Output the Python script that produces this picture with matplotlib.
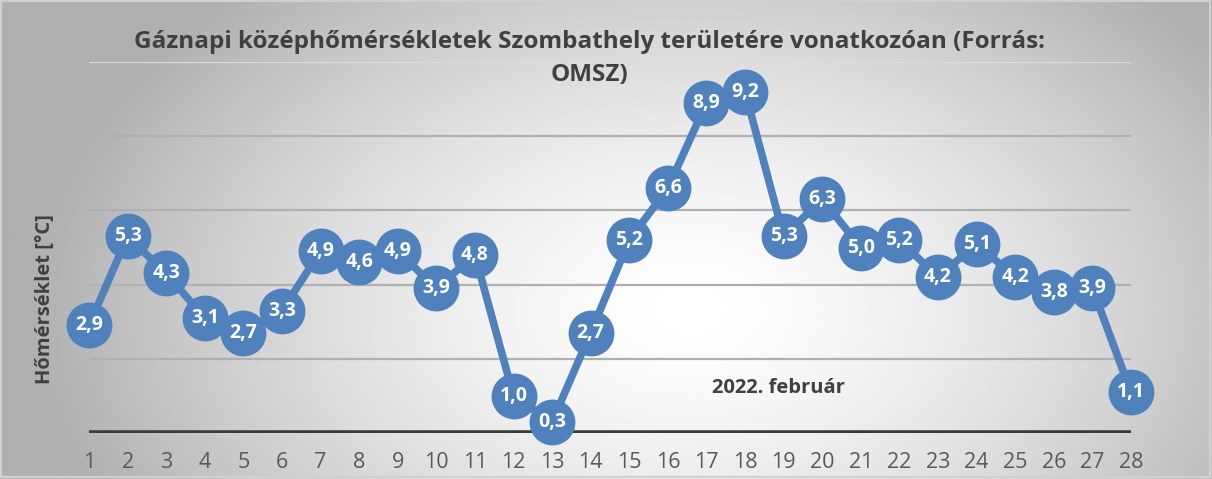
import numpy as np
import matplotlib.pyplot as plt
from matplotlib.patches import Rectangle

# ============================================================
# Data (daily mean temperature, Szombathely, Feb 2022)
# ============================================================

days = list(range(1, 29))
temps = [2.9, 5.3, 4.3, 3.1, 2.7, 3.3, 4.9, 4.6, 4.9, 3.9,
         4.8, 1.0, 0.3, 2.7, 5.2, 6.6, 8.9, 9.2, 5.3, 6.3,
         5.0, 5.2, 4.2, 5.1, 4.2, 3.8, 3.9, 1.1]
y_grid = [2, 4, 6, 8, 10]

title_lines = ["Gáznapi középhőmérsékletek Szombathely területére vonatkozóan (Forrás:",
               "OMSZ)"]
y_label = "Hőmérséklet [°C]"
month_label = "2022. február"

plt.rcParams["font.family"] = ["Open Sans", "DejaVu Sans"]

W, H = 1212, 479
fig = plt.figure(figsize=(W / 100, H / 100), dpi=100)

# ============================================================
# Background gradient
# ============================================================

bg = fig.add_axes([0, 0, 1, 1], zorder=0)
xx, yy = np.meshgrid(np.linspace(0, W, 400), np.linspace(0, H, 200))
cx, cy = 690, 310
r = np.sqrt(((xx - cx) / 600) ** 2 + ((yy - cy) / 400) ** 2)
shade = 1.0 - 0.27 * np.clip(r, 0, 1.1) ** 1.5
bg.imshow(shade, cmap="gray", vmin=0, vmax=1, extent=[0, W, H, 0],
          aspect="auto", interpolation="bilinear")
bg.add_patch(Rectangle((1, 1), W - 3, H - 3, fill=False,
                       edgecolor="#d0d0d0", lw=1.5))
bg.set_xlim(0, W)
bg.set_ylim(H, 0)
bg.axis("off")

# ============================================================
# Main plot
# ============================================================

left, right = 89 / W, 1131 / W
bottom, top = (H - 433) / H, (H - 62) / H
ax = fig.add_axes([left, bottom, right - left, top - bottom], zorder=1)
ax.patch.set_alpha(0)

for g in y_grid:
    ax.axhline(g, color="#b0b0b0" if g < 10 else "#dcdcdc", lw=1.6, zorder=1)
ax.axhline(0, color="#3a3a3a", lw=4, zorder=2)

ax.plot(days, temps, color="#4f81bd", lw=5.5, marker="o", markersize=32,
        markerfacecolor="#4f81bd", markeredgecolor="#4f81bd",
        clip_on=False, zorder=3)

for d, t in zip(days, temps):
    ax.text(d, t, f"{t:.1f}".replace(".", ","), color="white",
            fontsize=14, fontweight="bold", ha="center", va="center",
            zorder=4)

ax.set_xlim(1, 28)
ax.set_ylim(0, 10)
ax.set_xticks(days)
ax.set_xticklabels([str(d) for d in days])
ax.set_yticks([])
ax.tick_params(axis="x", length=0, pad=14, labelsize=15.5, labelcolor="#595959")
for s in ax.spines.values():
    s.set_visible(False)

# ============================================================
# Texts
# ============================================================

for i, line in enumerate(title_lines):
    fig.text(590 / W, 1 - (42 + 33 * i) / H, line, ha="center", va="center",
             fontsize=17.5, fontweight="bold", color="#404040")
fig.text(45 / W, 1 - 299 / H, y_label, rotation=90, ha="center",
         va="center", fontsize=14.5, fontweight="bold", color="#404040")
fig.text(778 / W, 1 - 388 / H, month_label, ha="center", va="center",
         fontsize=14.5, fontweight="bold", color="#404040")

fig.savefig("out.png", dpi=100)
